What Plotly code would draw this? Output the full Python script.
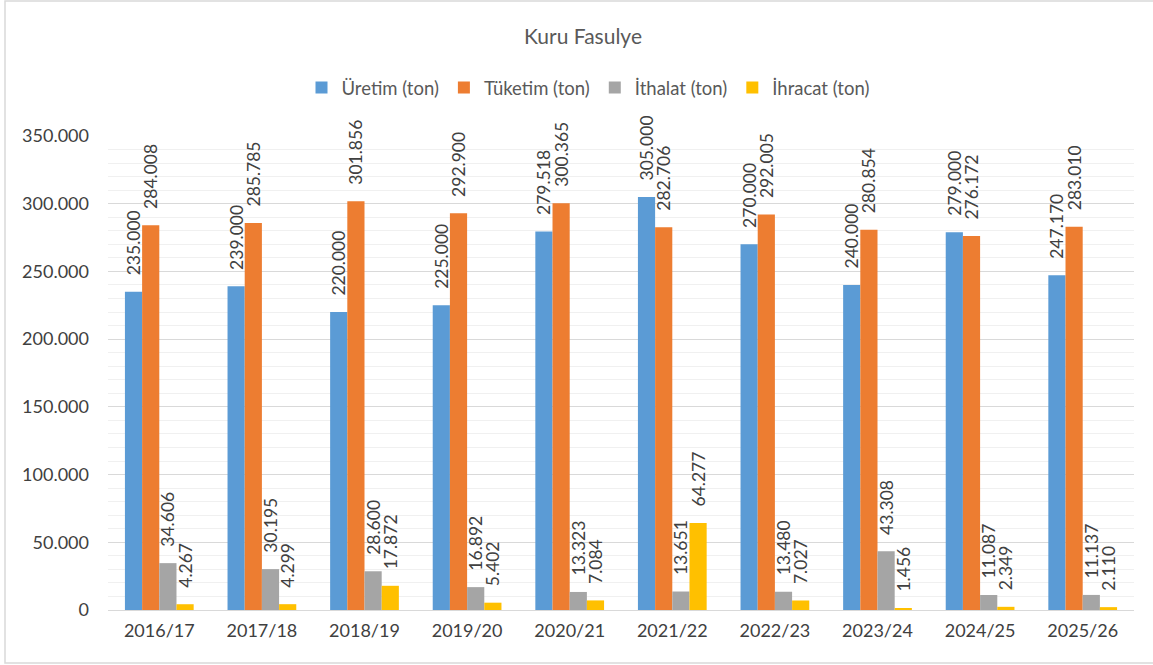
import plotly.graph_objects as go

years = ["2016/17", "2017/18", "2018/19", "2019/20", "2020/21",
         "2021/22", "2022/23", "2023/24", "2024/25", "2025/26"]
uretim = [235000, 239000, 220000, 225000, 279518, 305000, 270000, 240000, 279000, 247170]
tuketim = [284008, 285785, 301856, 292900, 300365, 282706, 292005, 280854, 276172, 283010]
ithalat = [34606, 30195, 28600, 16892, 13323, 13651, 13480, 43308, 11087, 11137]
ihracat = [4267, 4299, 17872, 5402, 7084, 64277, 7027, 1456, 2349, 2110]

series = [
    ("Üretim (ton)", uretim, "#5B9BD5"),
    ("Tüketim (ton)", tuketim, "#ED7D31"),
    ("İthalat (ton)", ithalat, "#A5A5A5"),
    ("İhracat (ton)", ihracat, "#FFC000"),
]

FONT = "Lato"
PAD = "\u00a0\u00a0\u00a0"
fig = go.Figure()
for name, vals, col in series:
    fig.add_trace(go.Bar(
        x=years, y=vals, name=name, marker=dict(color=col, line=dict(width=0)),
        texttemplate=PAD + "%{y:,d}", textposition="outside", textangle=-90,
        textfont=dict(family=FONT, size=17.5, color="#404040"),
        cliponaxis=False, constraintext="none",
    ))

W, H = 1153, 665
L, R, T, B = 108, 19, 136, 55
pw, ph = W - L - R, H - T - B

fig.update_layout(
    width=W, height=H, autosize=False,
    margin=dict(l=L, r=R, t=T, b=B, autoexpand=False),
    paper_bgcolor="white", plot_bgcolor="white",
    separators=",.",
    barmode="group", bargap=0.33, bargroupgap=0,
    font=dict(family=FONT, color="#595959"),
    title=dict(text="Kuru Fasulye", x=583 / W, xref="container", y=1 - 37 / H,
               yref="container", yanchor="middle", xanchor="center",
               font=dict(size=21, color="#595959", family=FONT)),
    legend=dict(orientation="h", xref="paper", x=(588 - L) / pw, xanchor="center",
                yref="paper", y=(H - B - 88) / ph, yanchor="middle",
                font=dict(size=18.5, color="#595959", family=FONT),
                itemsizing="constant", traceorder="normal"),
    yaxis=dict(range=[0, 350000], dtick=50000, tickformat=",d",
               showgrid=True, gridcolor="#D9D9D9", gridwidth=1,
               minor=dict(dtick=10000, showgrid=True, gridcolor="#F0F0F0", gridwidth=1),
               zeroline=False, showline=False, ticks="",
               ticklabelstandoff=18,
               tickfont=dict(size=18, color="#404040", family=FONT)),
    xaxis=dict(showline=True, linecolor="#D9D9D9", linewidth=1, ticks="",
               tickangle=0, ticklabelstandoff=4,
               tickfont=dict(size=18, color="#404040", family=FONT)),
    shapes=[dict(type="rect", xref="paper", yref="paper",
                 x0=(5 - L) / pw, x1=(1160 - L) / pw,
                 y0=(H - B - 663) / ph, y1=(H - B - 1) / ph,
                 line=dict(color="#D9D9D9", width=1.5), fillcolor="rgba(0,0,0,0)",
                 layer="below")],
)

fig.write_html("out.html", config={"displayModeBar": False},
               post_script="document.body.style.margin='0';document.body.style.padding='0';")
